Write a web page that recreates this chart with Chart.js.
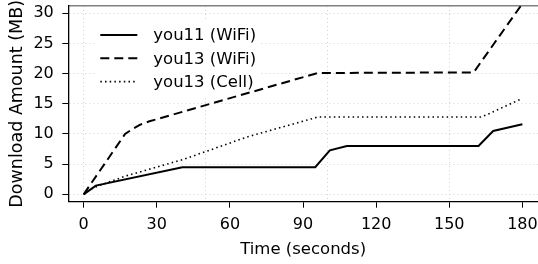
<!DOCTYPE html>
<html>
<head>
<meta charset="utf-8">
<script src="https://cdn.jsdelivr.net/npm/chart.js@4.4.1/dist/chart.umd.min.js"></script>
<style>
  html, body { margin: 0; padding: 0; background: #fff; overflow: hidden; }
  #wrap { width: 538px; height: 264px; }
  #chart { display: block; }
</style>
</head>
<body>
<div id="wrap"><canvas id="chart" width="538" height="264"></canvas></div>
<script>
// Values (time in seconds, download in MB)
const you11WifiTime = [0, 5, 40.5, 95, 101, 108, 162, 168, 180];
const you11WifiMB   = [0, 1.45, 4.5, 4.5, 7.3, 8.0, 8.0, 10.5, 11.6];

const you13WifiTime = [0, 17, 20, 23, 27, 96, 160, 180];
const you13WifiMB   = [0, 10, 10.8, 11.5, 12.1, 20.1, 20.2, 31.6];

const you13CellTime = [0, 4, 17, 41, 67, 96, 163, 166, 180];
const you13CellMB   = [0, 1.1, 3.0, 5.8, 9.5, 12.8, 12.8, 13.3, 15.9];

const seriesLabels = ['you11 (WiFi)', 'you13 (WiFi)', 'you13 (Cell)'];

const xTicks = [0, 30, 60, 90, 120, 150, 180];
const xGridLines = [0, 50, 100, 150]; // the vertical grid does not follow the tick labels
const yTicks = [0, 5, 10, 15, 20, 25, 30];

const FONT = '"DejaVu Sans", sans-serif';
const GRID_COLOR = '#d2d2d2';
const GRID_DASH = [1, 3];

// junta os arrays de tempo e valor em pontos {x, y}
const toPoints = (times, values) => times.map((t, i) => ({ x: t, y: values[i] }));

const X_MIN = -6.3;
const X_MAX = 186.4;

// Legend drawn inside the plot, top left, over a white box
const insideLegend = {
  id: 'insideLegend',
  beforeDatasetsDraw(chart) {
    const { ctx, chartArea } = chart;
    const x0 = chartArea.left + 32;
    ctx.save();
    ctx.fillStyle = '#fff';
    ctx.fillRect(chartArea.left + 29, chartArea.top + 14, 163, 78);
    chart.data.datasets.forEach((ds, i) => {
      const y = chartArea.top + 29 + i * 23.3;
      ctx.beginPath();
      ctx.setLineDash(ds.borderDash || []);
      ctx.lineWidth = ds.borderWidth;
      ctx.strokeStyle = ds.borderColor;
      ctx.moveTo(x0, y);
      ctx.lineTo(x0 + 37, y);
      ctx.stroke();
      ctx.setLineDash([]);
      ctx.fillStyle = '#000';
      ctx.font = '16.5px ' + FONT;
      ctx.textBaseline = 'middle';
      ctx.textAlign = 'left';
      ctx.fillText(ds.label, x0 + 53, y + 1);
    });
    ctx.restore();
  }
};

const data = {
  datasets: [
    {
      label: seriesLabels[0],
      data: toPoints(you11WifiTime, you11WifiMB),
      borderColor: '#000',
      borderWidth: 2,
      borderDash: [],
    },
    {
      label: seriesLabels[1],
      data: toPoints(you13WifiTime, you13WifiMB),
      borderColor: '#000',
      borderWidth: 2,
      borderDash: [9, 5],
    },
    {
      label: seriesLabels[2],
      data: toPoints(you13CellTime, you13CellMB),
      borderColor: '#000',
      borderWidth: 1.6,
      borderDash: [1.5, 3.2],
    },
  ],
};

const config = {
  type: 'line',
  data,
  options: {
    responsive: false,
    animation: false,
    devicePixelRatio: 1,
    layout: { padding: { top: 6, right: 0, left: 0, bottom: 0 } },
    elements: {
      point: { radius: 0 },
      line: { tension: 0, fill: false },
    },
    plugins: {
      legend: { display: false },
      tooltip: { enabled: false },
    },
    scales: {
      x: {
        type: 'linear',
        position: 'bottom',
        min: X_MIN,
        max: X_MAX,
        afterBuildTicks: (s) => { s.ticks = xTicks.map((v) => ({ value: v })); },
        afterFit: (s) => { s.height = 62.3; s.paddingLeft = 0; s.paddingRight = 0; },
        grid: { drawOnChartArea: false, tickLength: 6, tickColor: '#000', tickWidth: 1 },
        border: { color: '#000', width: 1.3 },
        ticks: {
          color: '#000',
          font: { family: FONT, size: 16 },
          padding: 8,
          maxRotation: 0,
          autoSkip: false,
        },
        title: {
          display: true,
          text: 'Time (seconds)',
          color: '#000',
          font: { family: FONT, size: 16.5 },
          padding: { top: 0, bottom: 4 },
        },
      },
      // only carries the vertical dotted grid at 0, 50, 100, 150
      xGrid: {
        type: 'linear',
        position: 'bottom',
        min: X_MIN,
        max: X_MAX,
        afterBuildTicks: (s) => { s.ticks = xGridLines.map((v) => ({ value: v })); },
        afterFit: (s) => { s.height = 0; s.paddingLeft = 0; s.paddingRight = 0; },
        grid: { color: GRID_COLOR, lineWidth: 1, drawTicks: false },
        border: { display: false, dash: GRID_DASH },
        ticks: { display: false },
      },
      // grey frame line along the top
      xTop: {
        type: 'linear',
        position: 'top',
        min: X_MIN,
        max: X_MAX,
        afterFit: (s) => { s.height = 0; s.paddingLeft = 0; s.paddingRight = 0; },
        grid: { display: false },
        border: { color: '#808080', width: 1.5 },
        ticks: { display: false },
      },
      y: {
        type: 'linear',
        min: -1.22,
        max: 31.2,
        afterBuildTicks: (s) => { s.ticks = yTicks.map((v) => ({ value: v })); },
        afterFit: (s) => { s.width = 68.3; s.paddingTop = 0; s.paddingBottom = 0; },
        grid: { color: GRID_COLOR, lineWidth: 1, tickLength: 6, tickColor: '#000', tickWidth: 1 },
        border: { color: '#000', width: 1.3, dash: GRID_DASH },
        ticks: {
          color: '#000',
          font: { family: FONT, size: 16 },
          padding: 8.5,
        },
        title: {
          display: true,
          text: 'Download Amount (MB)',
          color: '#000',
          font: { family: FONT, size: 17.5 },
          padding: { top: 7, bottom: 0 },
        },
      },
    },
  },
  plugins: [insideLegend],
};

new Chart(document.getElementById('chart').getContext('2d'), config);
</script>
</body>
</html>
